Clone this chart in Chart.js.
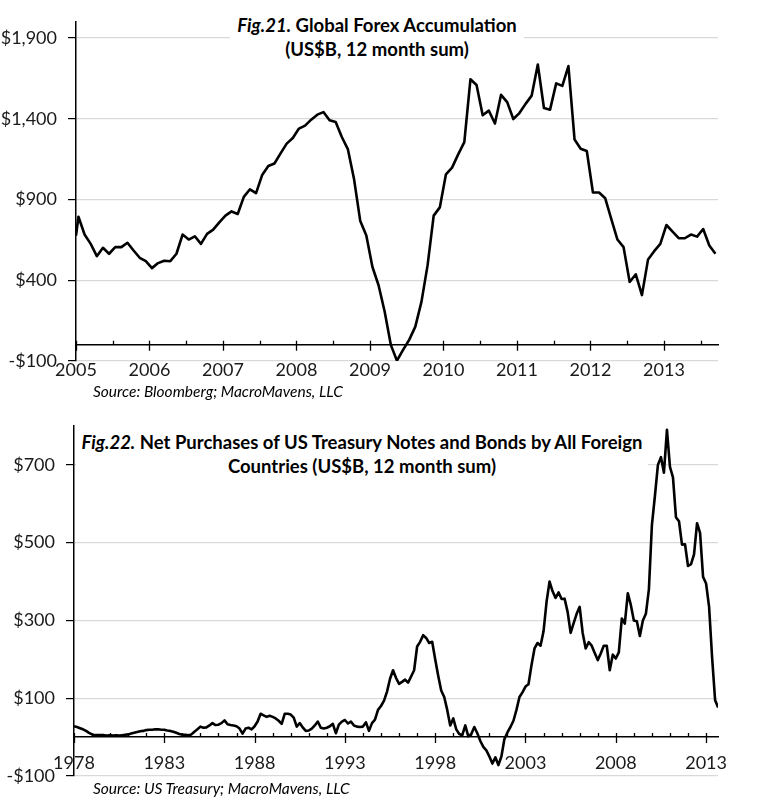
<!DOCTYPE html>
<html>
<head>
<meta charset="utf-8">
<script src="https://cdn.jsdelivr.net/npm/chart.js@4.4.1/dist/chart.umd.min.js"></script>
<style>
  body { margin: 0; background: #fff; width: 783px; height: 807px; position: relative; overflow: hidden; font-family: Lato, sans-serif; }
  .box { position: absolute; }
  .title { position: absolute; background: #fff; text-align: center; font-weight: bold; font-size: 18.5px; line-height: 23.5px; color: #000; white-space: nowrap; }
  .src { position: absolute; font-style: italic; font-size: 15.5px; line-height: 18px; color: #000; white-space: nowrap; }
</style>
</head>
<body>
<div class="box" style="left:0;top:0;width:783px;height:400px"><canvas id="fx"></canvas></div>
<div class="box" style="left:0;top:400px;width:783px;height:407px"><canvas id="ust"></canvas></div>

<div class="title" style="left:230px;top:14px;width:294px"><i>Fig.21.</i> Global Forex Accumulation<br>(US$B, 12 month sum)</div>
<div class="src" style="left:93px;top:382px">Source: Bloomberg; MacroMavens, LLC</div>

<div class="title" style="left:76px;top:430px;width:572px;line-height:24px"><i>Fig.22.</i> Net Purchases of US Treasury Notes and Bonds by All Foreign<br>Countries (US$B, 12 month sum)</div>
<div class="src" style="left:93px;top:779px">Source: US Treasury; MacroMavens, LLC</div>

<script>
// Fig.21 - monthly, from Jan 2005 (first value sits on 2005.0)
const fxStart = 2005
const fxValues = [676,
  793, 683, 625, 549, 601, 564, 605, 605, 632, 584,
  539, 518, 475, 506, 521, 518, 564, 683, 652, 672,
  625, 687, 713, 758, 800, 826, 810, 916, 963, 939,
  1052, 1107, 1123, 1185, 1246, 1281, 1339, 1357, 1394, 1425,
  1441, 1390, 1379, 1287, 1210, 1025, 769, 677, 482, 369,
  205, 0, -98, -31, 31, 113, 266, 492, 800, 851,
  1056, 1097, 1179, 1255, 1644, 1609, 1421, 1450, 1370, 1548,
  1503, 1398, 1435, 1492, 1543, 1736, 1466, 1456, 1619, 1603,
  1726, 1271, 1214, 1200, 943, 943, 908, 779, 652, 605,
  389, 437, 308, 529, 580, 625, 742, 701, 660, 660,
  683, 670, 717, 615, 564]
const fxYTicks = [-100, 400, 900, 1400, 1900]
const fxYears = [2005, 2006, 2007, 2008, 2009, 2010, 2011, 2012, 2013]

// Fig.22 - every two months from 1978
const ustStart = 1978
const ustValues = [
  28, 26, 23, 20, 16, 11, 7, 5, 5, 5,
  5, 4, 5, 4, 5, 4, 5, 6, 7, 9,
  11, 13, 15, 16, 18, 19, 19, 20, 20, 19,
  19, 17, 16, 14, 11, 8, 6, 6, 5, 7,
  14, 20, 27, 24, 25, 30, 36, 31, 32, 36,
  43, 33, 31, 30, 28, 22, 9, 22, 24, 20,
  28, 40, 60, 56, 52, 55, 52, 48, 42, 34,
  60, 60, 58, 50, 27, 36, 25, 16, 17, 22,
  30, 40, 24, 22, 24, 28, 34, 10, 32, 40,
  44, 35, 40, 30, 27, 26, 27, 38, 16, 36,
  45, 70, 80, 94, 117, 150, 172, 152, 137, 142,
  148, 140, 156, 172, 233, 245, 262, 255, 242, 245,
  200, 158, 120, 103, 70, 30, 48, 20, 8, 5,
  30, 2, 8, 26, 10, -10, -25, -34, -50, -68,
  -52, -72, -50, -5, 12, 26, 42, 70, 103, 115,
  130, 136, 185, 228, 242, 235, 272, 348, 400, 375,
  358, 372, 355, 356, 322, 268, 293, 317, 335, 268,
  228, 244, 235, 216, 198, 215, 235, 235, 172, 212,
  202, 218, 305, 292, 370, 340, 300, 298, 260, 300,
  317, 380, 545, 620, 700, 720, 680, 790, 695, 668,
  565, 555, 495, 496, 440, 445, 470, 550, 525, 412,
  395, 335, 205, 95, 76]
const ustYTicks = [-100, 100, 300, 500, 700]
const ustYears = [1978, 1983, 1988, 1993, 1998, 2003, 2008, 2013]

const fxPoints = fxValues.map((v, i) => ({ x: fxStart + (i === 0 ? 0 : i - 0.6) / 12, y: v }))
const ustPoints = ustValues.map((v, i) => ({ x: ustStart + i / 6, y: v }))

function money(v) {
  return (v < 0 ? '-$' : '$') + Math.abs(v).toLocaleString('en-US')
}

// small tick marks on the zero line
const yearTicks = {
  id: 'yearTicks',
  afterDraw(chart, args, opts) {
    const ctx = chart.ctx
    const xs = chart.scales.x
    const y0 = chart.scales.y.getPixelForValue(0)
    ctx.save()
    ctx.strokeStyle = '#000'
    ctx.lineWidth = 1.3
    ctx.beginPath()
    opts.minor.forEach(v => {
      const px = Math.round(xs.getPixelForValue(v)) + 0.5
      ctx.moveTo(px, y0 - 4); ctx.lineTo(px, y0)
    })
    opts.major.forEach(v => {
      const px = Math.round(xs.getPixelForValue(v)) + 0.5
      ctx.moveTo(px, y0 - 4); ctx.lineTo(px, y0 + 6)
    })
    ctx.stroke()
    ctx.restore()
  }
}

function makeChart(id, points, xMin, xMax, yMax, yTicks, years, minor, axisWidth, pad) {
  const ctx = document.getElementById(id).getContext('2d')
  return new Chart(ctx, {
    type: 'line',
    data: {
      datasets: [{
        data: points,
        borderColor: '#000',
        borderWidth: 2.6,
        pointRadius: 0,
        borderJoinStyle: 'round',
        tension: 0,
      }]
    },
    options: {
      responsive: true,
      maintainAspectRatio: false,
      animation: false,
      layout: { padding: pad },
      plugins: {
        legend: { display: false },
        tooltip: { enabled: false },
        yearTicks: { major: years, minor: minor },
      },
      scales: {
        x: {
          type: 'linear',
          position: { y: 0 },
          min: xMin,
          max: xMax,
          afterBuildTicks: s => { s.ticks = years.map(v => ({ value: v })) },
          grid: { display: false, drawTicks: false },
          border: { display: true, color: '#000', width: 1.5 },
          ticks: {
            autoSkip: false,
            maxRotation: 0,
            padding: 15,
            color: '#1a1a1a',
            font: { family: 'Lato', size: 18 },
            callback: v => String(v),
          },
        },
        y: {
          min: -100,
          max: yMax,
          afterBuildTicks: s => { s.ticks = yTicks.map(v => ({ value: v })) },
          afterFit: s => { s.width = axisWidth },
          grid: { color: '#d9d9d9', lineWidth: 1.2, tickColor: '#000', tickLength: 8 },
          border: { display: true, color: '#000', width: 1.5 },
          ticks: {
            padding: 11,
            color: '#1a1a1a',
            font: { family: 'Lato', size: 18 },
            callback: v => money(v),
          },
        },
      },
    },
    plugins: [yearTicks],
  })
}

const fxMinor = fxYears.map(v => v + 0.5)
const ustMinor = []
for (let y = 1979; y <= 2013; y++) if ((y - 1978) % 5 !== 0) ustMinor.push(y)

makeChart('fx', fxPoints, 2005, 2013.735, 2000, fxYTicks, fxYears, fxMinor, 76,
  { top: 19, right: 65, bottom: 39, left: 0 })
makeChart('ust', ustPoints, 1978, 2013.66, 800, ustYTicks, ustYears, ustMinor, 74,
  { top: 26, right: 65, bottom: 31, left: 0 })
</script>
</body>
</html>
